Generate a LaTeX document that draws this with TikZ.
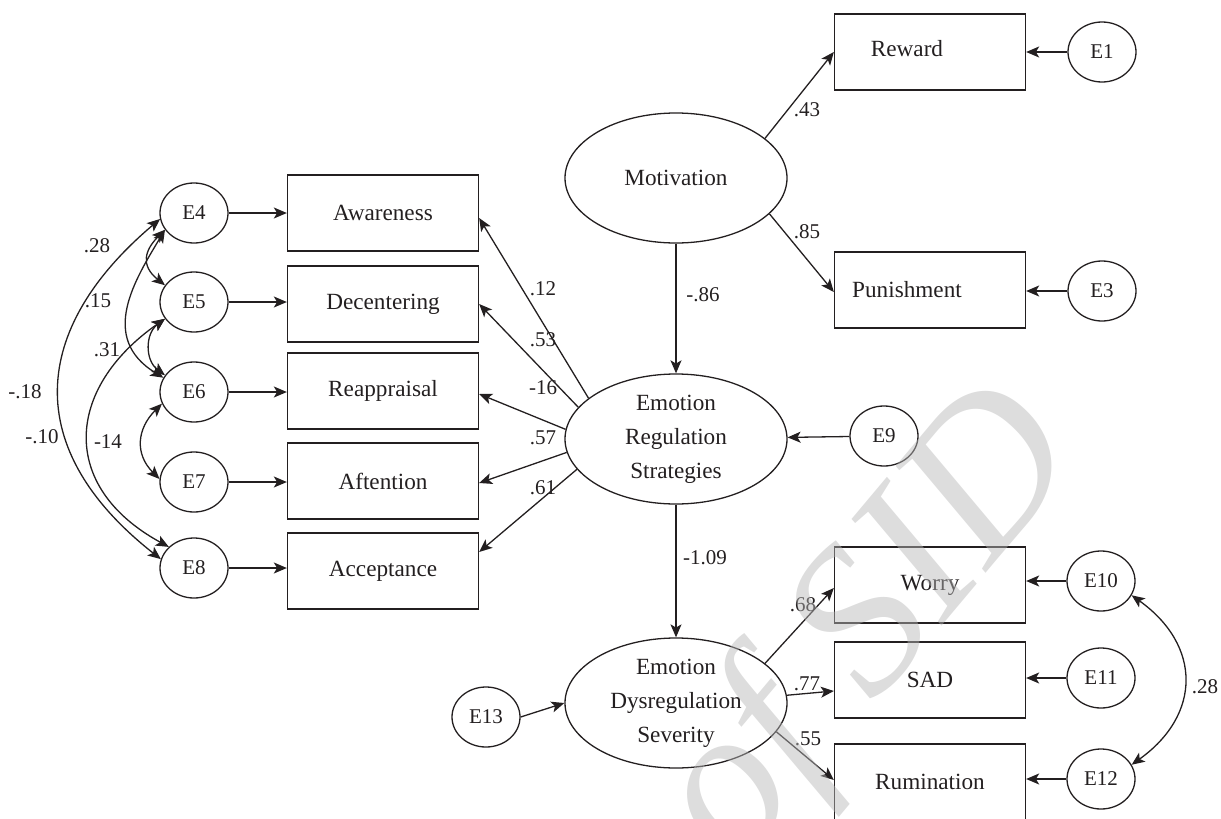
\documentclass[tikz,border=0pt]{standalone}
\usepackage{fontspec}
\setmainfont{Liberation Serif}
\usetikzlibrary{arrows.meta,shapes.geometric}
\definecolor{ink}{RGB}{35,31,32}
\definecolor{wm}{RGB}{182,182,182}
\begin{document}
\begin{tikzpicture}[x=0.5pt,y=-0.5pt,
  every node/.style={text=ink},
  conn/.style={draw=ink,line width=0.65pt},
  arr/.style={conn,-{Stealth[length=6.5pt,width=5.5pt,inset=1.6pt]}},
  biarr/.style={conn,{Stealth[length=6.5pt,width=5.5pt,inset=1.6pt]}-{Stealth[length=6.5pt,width=5.5pt,inset=1.6pt]}},
  obs/.style={draw=ink,line width=0.65pt,rectangle,minimum width=95.5pt,minimum height=38pt,inner sep=0pt,font=\fontsize{11.6}{14}\selectfont},
  boxlbl/.style={font=\fontsize{11.6}{14}\selectfont,inner sep=0pt,text=ink},
  lat/.style={draw=ink,line width=0.65pt,ellipse,minimum width=111pt,minimum height=65pt,inner sep=0pt,align=center,font=\fontsize{11.6}{17}\selectfont},
  err/.style={draw=ink,line width=0.65pt,ellipse,minimum width=34pt,minimum height=30pt,inner sep=0pt,font=\fontsize{10.5}{12}\selectfont},
  lbl/.style={font=\fontsize{10.5}{12}\selectfont,inner sep=0pt},
]
\useasboundingbox (0,0) rectangle (1221,819);

% latent variables
\node[lat] (mot) at (676,178) {Motivation};
\node[lat] (ers) at (676,439) {Emotion\\Regulation\\Strategies};
\node[lat] (eds) at (676,703) {Emotion\\Dysregulation\\Severity};

% observed variables
\node[obs,label={[boxlbl,xshift=-11.5pt,yshift=1.5pt]center:Reward}] (rew) at (930,52) {};
\node[obs,label={[boxlbl,xshift=-11.5pt]center:Punishment}] (pun) at (930,290) {};
\node[obs] (aw) at (383,213) {Awareness};
\node[obs] (dec) at (383,304) {Decentering};
\node[obs] (reap) at (383,391) {Reappraisal};
\node[obs] (aft) at (383,481) {Aftention};
\node[obs] (acc) at (383,571) {Acceptance};
\node[obs] (wor) at (930,585) {Worry};
\node[obs] (sad) at (930,680) {SAD};
\node[obs] (rum) at (930,782) {Rumination};

% error terms
\node[err] (e1) at (1102,52) {E1};
\node[err] (e3) at (1102,291) {E3};
\node[err] (e9) at (884,436) {E9};
\node[err] (e10) at (1101,581) {E10};
\node[err] (e11) at (1101,678) {E11};
\node[err] (e12) at (1101,779) {E12};
\node[err] (e13) at (486,717) {E13};
\node[err] (e4) at (194,213) {E4};
\node[err] (e5) at (194,302) {E5};
\node[err] (e6) at (194,392) {E6};
\node[err] (e7) at (194,482) {E7};
\node[err] (e8) at (194,568) {E8};

% error arrows
\draw[arr] (e1) -- (rew);
\draw[arr] (e3.west) -- (pun.east |- e3.west);
\draw[arr] (e9) -- (ers);
\draw[arr] (e10.west) -- (wor.east |- e10.west);
\draw[arr] (e11.west) -- (sad.east |- e11.west);
\draw[arr] (e12.west) -- (rum.east |- e12.west);
\draw[arr] (e13.east) -- (eds.west);
\draw[arr] (e4.east) -- (aw.west |- e4.east);
\draw[arr] (e5.east) -- (dec.west |- e5.east);
\draw[arr] (e6.east) -- (reap.west |- e6.east);
\draw[arr] (e7.east) -- (aft.west |- e7.east);
\draw[arr] (e8.east) -- (acc.west |- e8.east);

% structural paths
\draw[arr] (mot.24) -- (rew.west);
\draw[arr] (mot.-21) -- ([yshift=-1pt]pun.west);
\draw[arr] (mot) -- (ers);
\draw[arr] (ers) -- (eds);
\draw[arr] (ers.155) -- ([yshift=-2.5pt]aw.east);
\draw[arr] (ers.162) -- (dec.east);
\draw[arr] (ers.175) -- ([yshift=-1.5pt]reap.east);
\draw[arr] (ers.187) -- ([yshift=-1pt]aft.east);
\draw[arr] (ers.197) -- ([yshift=9.5pt]acc.east);
\draw[arr] (eds.24) -- ([yshift=-1.5pt]wor.west);
\draw[arr] (eds.4) -- ([yshift=-5.5pt]sad.west);
\draw[arr] (eds.-16) -- ([yshift=1pt]rum.west);

% covariances
\draw[biarr] (e4.190) .. controls +(-130,110) and +(-140,-110) .. (e8.165);
\draw[biarr] (e4.210) .. controls +(-30,50) and +(-65,-40) .. (e6.155);
\draw[biarr] (e4.210) .. controls +(-20,20) and +(-25,-20) .. (e5.150);
\draw[biarr] (e5.210) .. controls +(-20,15) and +(-20,-15) .. (e6.150);
\draw[biarr] (e5.210) .. controls +(-100,70) and +(-110,-60) .. (e8.140);
\draw[biarr] (e6.200) .. controls +(-25,25) and +(-25,-25) .. (e7.175);
\draw[biarr] (e10.-25) .. controls +(70,50) and +(70,-50) .. (e12.25);

% coefficient labels
\node[lbl] (l43) at (807,110) {.43};
\node[lbl] (l85) at (807,232) {.85};
\node[lbl] (l86) at (703,295) {-.86};
\node[lbl] (l109) at (705,558) {-1.09};
\node[lbl] (l12) at (543,289) {.12};
\node[lbl] (l53) at (543,340) {.53};
\node[lbl] (l16) at (543,388) {-16};
\node[lbl] (l57) at (543,438) {.57};
\node[lbl] (l61) at (543,488) {.61};
\node[lbl] (l68) at (803,605) {.68};
\node[lbl] (l77) at (807,684) {.77};
\node[lbl] (l55) at (808,739) {.55};
\node[lbl] (l28r) at (1205,687) {.28};
\node[lbl] (c28) at (97,246) {.28};
\node[lbl] (c15) at (98,301) {.15};
\node[lbl] (c31) at (107,350) {.31};
\node[lbl] (c18) at (25,392) {-.18};
\node[lbl] (c10) at (42,437) {-.10};
\node[lbl] (c14) at (108,442) {-14};

% watermark
\node[text=wm,opacity=0.47,font=\fontsize{105}{105}\selectfont\itshape,rotate=50,anchor=base east,inner sep=0pt] (wmk) at (1085,455) {Archive of SID};
\end{tikzpicture}
\end{document}
